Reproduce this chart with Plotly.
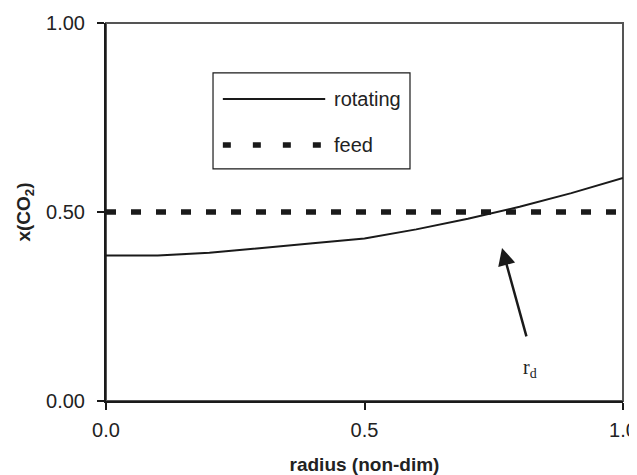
import plotly.graph_objects as go

# Data
radius = [0.0, 0.1, 0.2, 0.3, 0.4, 0.5, 0.6, 0.7, 0.8, 0.9, 1.0]
rotating = [0.385, 0.385, 0.392, 0.404, 0.417, 0.430, 0.454, 0.482, 0.514, 0.550, 0.590]
feed_x = [0.0, 1.0]
feed = [0.5, 0.5]
x_ticks = [0.0, 0.5, 1.0]
x_tick_labels = ["0.0", "0.5", "1.0"]
y_ticks = [0.0, 0.5, 1.0]
y_tick_labels = ["0.00", "0.50", "1.00"]

FONT = "Liberation Sans"
INK = "#1a1a1a"
TXT = "#222222"

fig = go.Figure()
fig.add_trace(go.Scatter(x=radius, y=rotating, mode="lines", name="rotating",
                         line=dict(color=INK, width=2), showlegend=False))
fig.add_trace(go.Scatter(x=feed_x, y=feed, mode="lines", name="feed",
                         line=dict(color=INK, width=5.5, dash="10px,15px"), showlegend=False))

# custom legend box
fig.add_shape(type="rect", xref="paper", yref="paper", x0=0.207, x1=0.588, y0=0.614, y1=0.868,
              line=dict(color=INK, width=1.2), fillcolor="white", layer="below")
fig.add_shape(type="line", xref="paper", yref="paper", x0=0.226, x1=0.424, y0=0.799, y1=0.799,
              line=dict(color=INK, width=2))
fig.add_shape(type="line", xref="paper", yref="paper", x0=0.226, x1=0.424, y0=0.677, y1=0.677,
              line=dict(color=INK, width=5.5, dash="8px,22px"))
fig.add_annotation(xref="paper", yref="paper", x=0.437, y=0.799, text="rotating", showarrow=False,
                   xanchor="left", yanchor="middle", font=dict(family=FONT, size=20, color=TXT))
fig.add_annotation(xref="paper", yref="paper", x=0.437, y=0.677, text="feed", showarrow=False,
                   xanchor="left", yanchor="middle", font=dict(family=FONT, size=20, color=TXT))

# plot border (gray top/right)
fig.add_shape(type="rect", xref="paper", yref="paper", x0=0, x1=1, y0=0, y1=1,
              line=dict(color="#555555", width=2), layer="below")

# arrow and r_d label
fig.add_annotation(x=0.766, y=0.405, ax=0.814, ay=0.167, xref="x", yref="y", axref="x", ayref="y",
                   text="", showarrow=True, arrowhead=2, arrowsize=1.4, arrowwidth=2.5,
                   arrowcolor=INK)
fig.add_annotation(x=0.82, y=0.085, xref="x", yref="y", text="r<sub>d</sub>", showarrow=False,
                   font=dict(family="Liberation Serif", size=20, color=TXT))

fig.update_xaxes(range=[0, 1], tickvals=x_ticks, ticktext=x_tick_labels, automargin=False,
                 showgrid=False, zeroline=False, showline=True, linecolor=INK, linewidth=2,
                 ticks="outside", ticklen=7, tickcolor=INK, tickwidth=1.5, ticklabelstandoff=3,
                 tickfont=dict(family=FONT, size=20, color=TXT),
                 title=dict(text="<b>radius (non-dim)</b>", font=dict(family=FONT, size=19, color=TXT),
                            standoff=27))
fig.update_yaxes(range=[0, 1], tickvals=y_ticks, ticktext=y_tick_labels, automargin=False,
                 showgrid=False, zeroline=False, showline=True, linecolor=INK, linewidth=2,
                 ticks="outside", ticklen=7, tickcolor=INK, tickwidth=1.5, ticklabelstandoff=8,
                 tickfont=dict(family=FONT, size=20, color=TXT),
                 title=dict(text="<b>x(CO<sub>2</sub>)</b>", font=dict(family=FONT, size=19, color=TXT),
                            standoff=10))

# page body has an 8px margin, so the figure is sized/offset to compensate
fig.update_layout(width=629, height=467, margin=dict(l=98, r=14, t=15, b=74),
                  paper_bgcolor="white", plot_bgcolor="white", showlegend=False)

fig.write_html("out.html",
               post_script="document.documentElement.style.overflow='hidden';"
                           "document.body.style.overflow='hidden';"
                           "var s=document.querySelectorAll('.main-svg');"
                           "for(var i=0;i<s.length;i++){s[i].style.overflow='visible';}")
